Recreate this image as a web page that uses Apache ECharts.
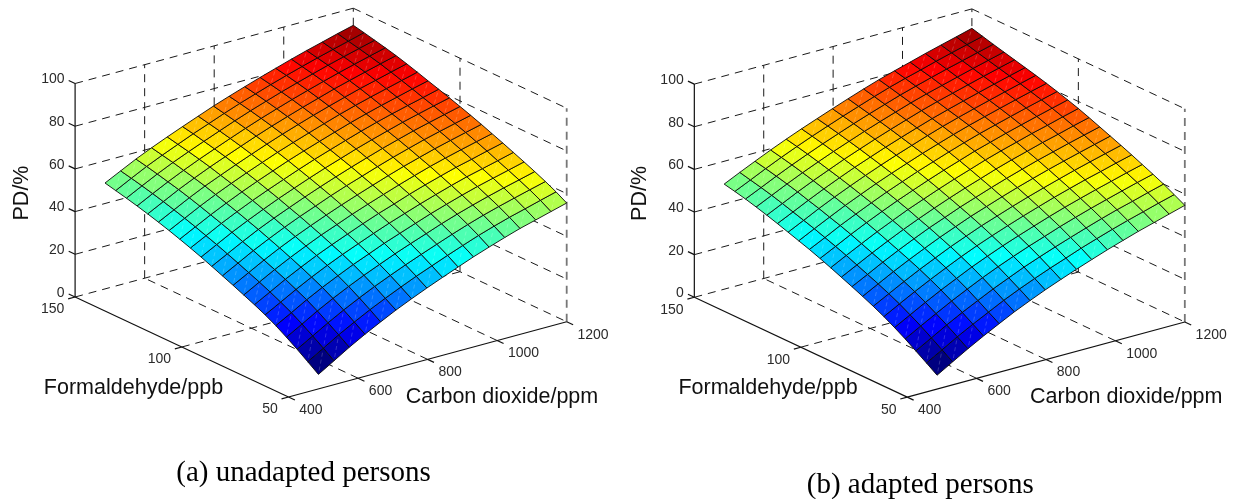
<!DOCTYPE html>
<html><head><meta charset="utf-8">
<style>html,body{margin:0;padding:0;background:#fff}#chart{width:1236px;height:499px}</style>
<script src="https://cdn.jsdelivr.net/npm/echarts@6/dist/echarts.min.js"></script></head>
<body><div id="chart"></div>
<script>
// ---- values ----
const co2Grid = [486,531,575,620,665,709,754,798,843,888,932,977,1022,1066,1111,1155,1200];
const hchoGrid = [50,55,60,65,70,75,80,85,90,95,100,105,110,115,120,125,130,135,140,145,150];
const co2Ticks = [400,600,800,1000,1200];
const hchoTicks = [50,100,150];
const pdTicks = [0,20,40,60,80,100];
const unadaptedPD = [
[6.8,11.2,15.6,19.7,23.5,27.1,30.4,33.5,36.5,39.4,42.2,44.8,47.3,49.6,51.6,53.6,55.6],
[10.4,14.8,19.1,23.1,26.9,30.3,33.6,36.7,39.6,42.5,45.2,47.9,50.3,52.5,54.5,56.5,58.5],
[13.9,18.2,22.4,26.4,30.1,33.5,36.7,39.7,42.6,45.4,48.1,50.7,53.1,55.2,57.2,59.1,61.0],
[17.2,21.4,25.6,29.5,33.1,36.4,39.5,42.5,45.3,48.0,50.7,53.2,55.5,57.6,59.6,61.4,63.3],
[20.3,24.4,28.5,32.3,35.8,39.1,42.1,45.1,47.8,50.5,53.1,55.5,57.8,59.9,61.8,63.6,65.5],
[23.0,27.0,31.0,34.8,38.3,41.5,44.5,47.4,50.2,52.8,55.3,57.7,60.0,62.1,63.9,65.7,67.6],
[25.4,29.4,33.4,37.1,40.6,43.7,46.7,49.6,52.4,54.9,57.5,59.9,62.1,64.2,66.0,67.9,69.7],
[27.6,31.7,35.6,39.3,42.7,45.9,48.8,51.7,54.4,57.0,59.5,61.9,64.2,66.2,68.1,69.9,71.7],
[29.8,33.8,37.7,41.4,44.8,47.9,50.9,53.7,56.4,59.0,61.5,63.9,66.1,68.2,70.1,71.9,73.7],
[31.9,35.9,39.8,43.4,46.8,49.9,52.8,55.7,58.4,60.9,63.4,65.8,68.0,70.1,72.0,73.8,75.6],
[34.0,37.9,41.7,45.4,48.7,51.7,54.7,57.5,60.2,62.8,65.2,67.6,69.8,71.9,73.8,75.6,77.4],
[36.0,39.9,43.7,47.2,50.5,53.6,56.5,59.3,62.0,64.5,67.0,69.3,71.5,73.6,75.5,77.3,79.1],
[37.9,41.7,45.5,49.0,52.3,55.3,58.2,61.0,63.7,66.2,68.6,71.0,73.2,75.2,77.1,78.9,80.8],
[39.7,43.5,47.2,50.7,54.0,57.0,59.9,62.7,65.3,67.8,70.2,72.6,74.8,76.8,78.7,80.6,82.4],
[41.4,45.2,48.9,52.4,55.6,58.6,61.5,64.3,66.9,69.4,71.8,74.2,76.4,78.4,80.3,82.2,84.1],
[43.0,46.8,50.5,54.0,57.1,60.1,63.0,65.8,68.5,71.0,73.4,75.7,77.9,80.0,81.9,83.8,85.7],
[44.5,48.3,52.0,55.4,58.6,61.5,64.4,67.2,69.9,72.4,74.8,77.1,79.4,81.4,83.4,85.3,87.2],
[45.9,49.7,53.3,56.7,59.9,62.8,65.7,68.5,71.2,73.7,76.1,78.4,80.6,82.7,84.7,86.6,88.5],
[47.2,51.0,54.6,58.0,61.1,64.0,66.9,69.7,72.4,74.9,77.3,79.6,81.8,83.9,85.9,87.8,89.7],
[48.4,52.2,55.8,59.1,62.2,65.2,68.0,70.8,73.5,76.0,78.4,80.7,82.9,85.0,87.0,88.9,90.9],
[49.6,53.3,56.9,60.2,63.3,66.2,69.1,71.9,74.5,77.0,79.4,81.7,84.0,86.1,88.1,90.1,92.0]];
const adaptedPD = [
[6.5,10.8,15.0,19.0,22.8,26.4,29.7,32.8,35.7,38.5,41.1,43.7,46.1,48.4,50.5,52.6,54.7],
[9.9,14.1,18.3,22.2,25.9,29.5,32.8,35.8,38.7,41.4,44.1,46.6,49.0,51.2,53.3,55.4,57.4],
[13.2,17.4,21.5,25.4,29.0,32.5,35.7,38.8,41.6,44.3,46.8,49.3,51.7,53.9,55.9,58.0,60.0],
[16.5,20.6,24.5,28.4,32.0,35.4,38.6,41.5,44.3,46.9,49.5,51.9,54.2,56.3,58.4,60.4,62.3],
[19.5,23.5,27.4,31.2,34.7,38.1,41.2,44.1,46.8,49.4,51.9,54.3,56.5,58.6,60.6,62.6,64.5],
[22.3,26.3,30.1,33.8,37.3,40.6,43.7,46.5,49.2,51.8,54.2,56.6,58.8,60.9,62.8,64.8,66.7],
[24.8,28.7,32.5,36.2,39.6,42.9,45.9,48.8,51.4,54.0,56.4,58.7,60.9,63.0,65.0,66.9,68.8],
[27.1,31.0,34.8,38.4,41.8,45.0,48.0,50.9,53.5,56.1,58.5,60.8,63.0,65.0,67.0,68.9,70.8],
[29.3,33.1,36.9,40.5,43.9,47.1,50.0,52.9,55.5,58.1,60.5,62.8,65.0,67.0,69.0,70.9,72.8],
[31.4,35.2,38.9,42.5,45.9,49.0,52.0,54.8,57.5,60.0,62.5,64.8,66.9,69.0,70.9,72.9,74.8],
[33.5,37.3,40.9,44.5,47.8,51.0,53.9,56.7,59.4,61.9,64.4,66.7,68.8,70.9,72.8,74.8,76.7],
[35.5,39.2,42.9,46.4,49.7,52.8,55.7,58.5,61.2,63.7,66.2,68.4,70.6,72.6,74.6,76.5,78.4],
[37.4,41.0,44.7,48.1,51.4,54.5,57.4,60.2,62.8,65.4,67.8,70.1,72.2,74.2,76.2,78.1,80.0],
[39.1,42.8,46.3,49.8,53.0,56.1,59.0,61.7,64.4,66.9,69.3,71.6,73.7,75.7,77.7,79.6,81.5],
[40.8,44.4,48.0,51.4,54.6,57.6,60.5,63.2,65.8,68.4,70.8,73.0,75.1,77.1,79.1,81.0,82.9],
[42.5,46.0,49.5,52.9,56.1,59.1,61.9,64.6,67.2,69.7,72.1,74.3,76.4,78.4,80.4,82.3,84.2],
[44.1,47.6,51.1,54.4,57.5,60.5,63.3,66.0,68.6,71.1,73.5,75.7,77.7,79.7,81.7,83.6,85.5],
[45.6,49.1,52.5,55.8,58.9,61.8,64.6,67.3,69.9,72.4,74.8,77.0,79.0,81.0,83.0,84.9,86.8],
[47.0,50.4,53.8,57.1,60.2,63.1,65.9,68.6,71.2,73.7,76.1,78.3,80.4,82.4,84.3,86.2,88.1],
[48.2,51.6,55.0,58.3,61.4,64.3,67.1,69.8,72.4,75.0,77.4,79.6,81.6,83.7,85.7,87.6,89.5],
[49.3,52.8,56.1,59.4,62.5,65.4,68.2,70.9,73.6,76.2,78.6,80.8,82.9,85.0,87.0,88.9,90.9]];
const captions = ['(a) unadapted persons','(b) adapted persons'];
const axisNames = {z:'PD/%', f:'Formaldehyde/ppb', c:'Carbon dioxide/ppm'};

// ---- view of the 3-D box, in each panel's own units ----
const V = {ox:288.5, oy:397, cx:0.34775, cy:0.0941, fx:2.134, fy:1.0, zy:2.135};
function view(c,f,z){
  return [V.ox+(c-400)*V.cx-(f-50)*V.fx, V.oy-(c-400)*V.cy-(f-50)*V.fy-z*V.zy];
}
const cMin=co2Ticks[0], cMax=co2Ticks[co2Ticks.length-1];
const fMin=hchoTicks[0], fMax=hchoTicks[hchoTicks.length-1];
const zMax=pdTicks[pdTicks.length-1];

function jet(t){
  const c=v=>Math.round(255*Math.max(0,Math.min(1,v)));
  return `rgb(${c(1.5-Math.abs(4*t-3))},${c(1.5-Math.abs(4*t-2))},${c(1.5-Math.abs(4*t-1))})`;
}

// line kinds: 0 dashed grid, 1 solid axis, 2 heavy grey dashed edge
const lineStyles = [
 {stroke:'#1a1a1a',lineWidth:1,lineDash:[8,6]},
 {stroke:'#111',lineWidth:1.2},
 {stroke:'#777',lineWidth:1.8,lineDash:[8,6]}
];
function boxLines(){
  const L=[];
  co2Ticks.slice(1,-1).forEach(c=>{
    L.push([c,fMin,0,c,fMax,0,0]);
    L.push([c,fMax,0,c,fMax,zMax,0]);
  });
  hchoTicks.slice(1,-1).forEach(f=>{
    L.push([cMin,f,0,cMax,f,0,0]);
    L.push([cMax,f,0,cMax,f,zMax,0]);
  });
  pdTicks.forEach(z=>{
    L.push([cMin,fMax,z,cMax,fMax,z,0]);
    L.push([cMax,fMax,z,cMax,fMin,z,0]);
  });
  L.push([cMax,fMax,0,cMax,fMax,zMax,0]);
  L.push([cMax,fMin,0,cMax,fMin,zMax,2]);
  return L;
}
function axisLines(){
  const L=[[cMin,fMin,0,cMax,fMin,0,1],[cMin,fMin,0,cMin,fMax,0,1],[cMin,fMax,0,cMin,fMax,zMax,1]];
  co2Ticks.forEach(c=>L.push([c,fMin,0,c,fMin-3,0,1]));
  hchoTicks.forEach(f=>L.push([cMin,f,0,cMin-20,f,0,1]));
  pdTicks.forEach(z=>L.push([cMin,fMax,z,cMin,fMax+3,z,1]));
  return L;
}
const tickFont='14px "Liberation Sans"', nameFont='21.5px "Liberation Sans"', capFont='29px "Liberation Serif"';
function panelTexts(layout,caption){
  const T=[];
  pdTicks.forEach(z=>T.push({text:String(z),at:view(cMin,fMax,z),dx:-10.6,dy:-4,align:'right',font:tickFont,fill:'#2a2a2a'}));
  hchoTicks.forEach(f=>T.push({text:String(f),at:view(cMin,f,0),dx:-10.7,dy:12.5,align:'right',font:tickFont,fill:'#2a2a2a'}));
  co2Ticks.forEach(c=>T.push({text:String(c),at:view(c,fMin,0),dx:10.8,dy:13,align:'left',font:tickFont,fill:'#2a2a2a'}));
  T.push({text:axisNames.z,at:[layout.zx,193],dx:0,dy:0,align:'center',font:nameFont,fill:'#111',rot:Math.PI/2});
  T.push({text:axisNames.f,at:[layout.fx,388],dx:0,dy:0,align:'center',font:nameFont,fill:'#111'});
  T.push({text:axisNames.c,at:[layout.cx,397],dx:0,dy:0,align:'center',font:nameFont,fill:'#111'});
  T.push({text:caption,at:[layout.capx,layout.capy],dx:0,dy:0,align:'center',font:capFont,fill:'#000'});
  return T;
}
function lineSeries(idx,lines,z){
  return {type:'custom',xAxisIndex:idx,yAxisIndex:idx,silent:true,z,clip:false,data:lines,
    renderItem(p,api){
      const a=api.coord(view(api.value(0),api.value(1),api.value(2)));
      const b=api.coord(view(api.value(3),api.value(4),api.value(5)));
      return {type:'line',shape:{x1:a[0],y1:a[1],x2:b[0],y2:b[1]},style:Object.assign({fill:null},lineStyles[api.value(6)])};
    }};
}
function surfaceSeries(idx,pd){
  const flat=pd.flat(), lo=Math.min(...flat), hi=Math.max(...flat);
  const cells=[];
  for(let j=0;j<hchoGrid.length-1;j++) for(let i=0;i<co2Grid.length-1;i++) cells.push([i,j]);
  return {type:'custom',xAxisIndex:idx,yAxisIndex:idx,silent:true,z:5,clip:false,data:cells,
    renderItem(p,api){
      const i=api.value(0), j=api.value(1);
      const pt=(a,b)=>api.coord(view(co2Grid[a],hchoGrid[b],pd[b][a]));
      const p00=pt(i,j),p10=pt(i+1,j),p11=pt(i+1,j+1),p01=pt(i,j+1);
      const mix=t=>[p00[0]+(p11[0]-p00[0])*t,p00[1]+(p11[1]-p00[1])*t];
      const s=mix(0.15), e=mix(0.85);
      return {type:'group',children:[
        {type:'polygon',shape:{points:[p00,p10,p11,p01]},
         style:{fill:jet((pd[j][i]-lo)/(hi-lo)),stroke:'#0a0a0a',lineWidth:0.9,lineJoin:'round'}},
        {type:'line',shape:{x1:s[0],y1:s[1],x2:e[0],y2:e[1]},
         style:{stroke:'rgba(255,255,255,0.28)',lineWidth:0.7,lineDash:[4,3]}}
      ]};
    }};
}
function textSeries(idx,texts){
  return {type:'custom',xAxisIndex:idx,yAxisIndex:idx,silent:true,z:8,clip:false,data:texts.map((t,k)=>[k,0]),
    renderItem(p,api){
      const t=texts[p.dataIndex], q=api.coord(t.at);
      return {type:'text',x:q[0]+t.dx,y:q[1]+t.dy,rotation:t.rot||0,
        style:{text:t.text,x:0,y:0,font:t.font,fill:t.fill,align:t.align,verticalAlign:'middle'}};
    }};
}
const layouts=[{zx:22,fx:133.5,cx:502,capx:303.5,capy:473},{zx:20.6,fx:149,cx:508,capx:301.6,capy:485}];
const panels=[unadaptedPD,adaptedPD];
const series=[];
panels.forEach((pd,k)=>{
  series.push(lineSeries(k,boxLines(),2));
  series.push(surfaceSeries(k,pd));
  series.push(lineSeries(k,axisLines(),6));
  series.push(textSeries(k,panelTexts(layouts[k],captions[k])));
});
const panelW=618, panelH=499;
const chart=echarts.init(document.getElementById('chart'),null,{renderer:'canvas'});
chart.setOption({
  animation:false,backgroundColor:'#fff',
  grid:[{left:0,top:0,width:panelW,height:panelH},{left:619.4,top:0.7,width:panelW,height:panelH}],
  xAxis:[0,1].map(g=>({type:'value',gridIndex:g,min:0,max:panelW,show:false})),
  yAxis:[0,1].map(g=>({type:'value',gridIndex:g,min:0,max:panelH,inverse:true,show:false})),
  series
});
</script></body></html>
